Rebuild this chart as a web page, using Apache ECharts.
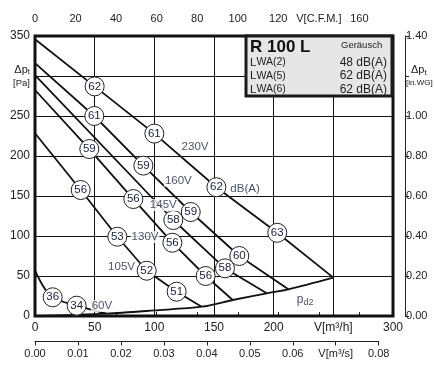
<!DOCTYPE html>
<html><head><meta charset="utf-8">
<script src="https://cdn.jsdelivr.net/npm/echarts@6/dist/echarts.min.js"></script>
<style>html,body{margin:0;padding:0;background:#fff}#c{width:434px;height:366px}</style>
</head><body><div id="c"></div>
<script>
const FONT = 'Arial, "Liberation Sans", Helvetica, sans-serif';
const AX = '#222';
const NAVY = '#16203a';

// Axis ranges / ticks
const flowMax = 300, flowStep = 50;            // V [m3/h]
const pressMax = 350, pressStep = 50;          // dp_t [Pa]
const cfmMax = 160, cfmStep = 20;              // V [CFM]
const m3sMax = 0.08, m3sStep = 0.01;           // V [m3/s]
const inwgMax = 1.4, inwgStep = 0.2;           // dp_t [in.WG]

// Fan curves [m3/h, Pa]
const curve230V = [[0,346],[50,287],[100,228],[152,161],[203,104],[250,48]];
const curve160V = [[0,316],[49.7,250],[90.8,188],[130.5,130],[171.2,75],[212.3,33.4]];
const curve145V = [[0,301],[115.9,120],[159.2,59.6],[194.2,28.4]];
const curve130V = [[0,282.5],[45.5,208.7],[82.4,146.2],[115.1,91.6],[143,50],[165.7,20]];
const curve105V = [[0,228.5],[38.3,157.5],[69,99.1],[93.6,56.6],[118.7,30.4],[139.7,11.6]];
const curve60V  = [[0,57],[7,37],[14.8,23.4],[34.9,12.9],[60,3]];
const curvePd2  = [[0,0],[60,3],[100,7],[139.7,11.6],[165.7,20],[194.2,28.4],[212.3,33.4],[250,48]];

// Sound level markers [m3/h, Pa, dB(A)]
const soundMarks = [
  [50,287,62],[100,228,61],[152,161,62],[203,104,63],
  [49.7,250,61],[90.8,188,59],[130.5,130,59],[171.2,75,60],
  [115.9,120,58],[159.2,59.6,58],
  [45.5,208.7,59],[82.4,146.2,56],[115.1,91.6,56],[143,50,56],
  [38.3,157.5,56],[69,99.1,53],[93.6,56.6,52],[118.7,30.4,51],
  [14.8,23.4,36],[34.9,12.9,34]
];

// Text annotations [m3/h, Pa, text]
const curveLabels = [
  [134.1,210.9,'230V'],[120.1,169.1,'160V'],[107.5,138.7,'145V'],
  [92.2,98.7,'130V'],[72.5,61.2,'105V'],[56.1,12.5,'60V'],[176,158.4,'dB(A)']
];
const pd2Label = [[226.3,20,'pd2']];

// Legend box content
const modelName = 'R 100 L';
const noiseTitle = 'Geräusch';
const noiseRows = [['2','48 dB(A)'],['5','62 dB(A)'],['6','62 dB(A)']];

function lineSeries(data){
  return {type:'line', data, showSymbol:false, silent:true, z:3,
    lineStyle:{color:'#111', width:1.8}, xAxisIndex:0, yAxisIndex:0, animation:false};
}

const graphic = [
  {type:'rect', shape:{x:246,y:36,width:146,height:60}, style:{fill:'#e6e6e6', stroke:'#1a1a1a', lineWidth:3}, z:100},
  {type:'text', x:250, y:47, style:{text:modelName, font:'bold 17px '+FONT, fill:'#111', verticalAlign:'middle'}, z:101},
  {type:'text', x:341, y:45, style:{text:noiseTitle, font:'9.5px '+FONT, fill:'#222', verticalAlign:'middle'}, z:101}
];
noiseRows.forEach((r,i)=>{
  const y = 62.5 + i*13.5;
  graphic.push({type:'text', x:250, y:y, z:101, style:{
    text:'{l|L}{s|WA(' + r[0] + ')}', verticalAlign:'middle',
    rich:{l:{font:'11.5px '+FONT, fill:'#222'}, s:{font:'10.5px '+FONT, fill:'#222'}}}});
  graphic.push({type:'text', x:387, y:y, z:101, style:{
    text:r[1], font:'12px '+FONT, fill:'#222', align:'right', verticalAlign:'middle'}});
});

const option = {
  animation:false,
  textStyle:{fontFamily:FONT},
  grid:[
    {left:35, top:36, width:358, height:280, show:true, borderColor:'#111', borderWidth:3, backgroundColor:'transparent', z:4, outerBoundsMode:'none', containLabel:false},
    {left:35, top:36, width:324.4, height:280, outerBoundsMode:'none', containLabel:false},
    {left:35, top:36, width:343.7, height:305.5, outerBoundsMode:'none', containLabel:false}
  ],
  xAxis:[
    {gridIndex:0, type:'value', min:0, max:flowMax, interval:flowStep,
      axisLine:{show:false}, axisTick:{show:false},
      splitLine:{show:true, lineStyle:{color:'#111', width:1}},
      axisLabel:{color:AX, fontSize:12, margin:6,
        formatter:v=> v===250 ? 'V[m³/h]' : String(v)}},
    {gridIndex:1, type:'value', position:'top', offset:8, min:0, max:cfmMax, interval:cfmStep,
      axisLine:{show:true, lineStyle:{color:'#222', width:1}},
      axisTick:{show:true, length:4, lineStyle:{color:'#222'}},
      splitLine:{show:false},
      axisLabel:{color:AX, fontSize:11, margin:4,
        formatter:v=> v===140 ? 'V[C.F.M.]' : String(v)}},
    {gridIndex:2, type:'value', position:'bottom', min:0, max:m3sMax, interval:m3sStep,
      axisLine:{show:true, onZero:false, lineStyle:{color:'#222', width:1}},
      axisTick:{show:true, length:4, lineStyle:{color:'#222'}},
      splitLine:{show:false},
      axisLabel:{color:AX, fontSize:11, margin:7,
        formatter:v=> Math.abs(v-0.07)<1e-9 ? 'V[m³/s]' : v.toFixed(2)}}
  ],
  yAxis:[
    {gridIndex:0, type:'value', min:0, max:pressMax, interval:pressStep,
      axisLine:{show:false}, axisTick:{show:false},
      splitLine:{show:true, lineStyle:{color:'#111', width:1}},
      axisLabel:{color:AX, fontSize:12, margin:5,
        formatter:v=> v===300 ? '{d|Δp}{t|t}\n{u|[Pa]}' : String(v),
        rich:{d:{fontSize:11, color:AX, lineHeight:14}, t:{fontSize:8, color:AX, padding:[5,0,0,0]}, u:{fontSize:9.5, color:AX, lineHeight:13}}}},
    {gridIndex:0, type:'value', position:'right', offset:12, min:0, max:inwgMax, interval:inwgStep,
      axisLine:{show:true, lineStyle:{color:'#222', width:1}},
      axisTick:{show:true, length:4, lineStyle:{color:'#222'}},
      splitLine:{show:false},
      axisLabel:{color:AX, fontSize:11, margin:1,
        formatter:v=> Math.abs(v-1.2)<1e-9 ? '{d|Δp}{t|t}\n{u|[in.WG]}' : v.toFixed(2),
        rich:{d:{fontSize:11, color:AX, lineHeight:14, padding:[0,0,0,5]}, t:{fontSize:8, color:AX, padding:[5,0,0,0]}, u:{fontSize:8, color:AX, lineHeight:12}}}},
    {gridIndex:1, type:'value', show:false, min:0, max:1},
    {gridIndex:2, type:'value', show:false, min:0, max:1}
  ],
  series:[
    lineSeries(curve230V), lineSeries(curve160V), lineSeries(curve145V),
    lineSeries(curve130V), lineSeries(curve105V),
    Object.assign(lineSeries(curve60V), {smooth:0.4}),
    Object.assign(lineSeries(curvePd2), {smooth:0.3}),
    {type:'scatter', data:soundMarks, symbolSize:19, silent:true, z:6,
      itemStyle:{color:'#fff', borderColor:'#222', borderWidth:1, opacity:1},
      label:{show:true, position:'inside', color:NAVY, fontSize:11.5, formatter:p=>String(p.value[2])}},
    {type:'scatter', data:curveLabels, symbolSize:0, silent:true, z:7,
      label:{show:true, position:'inside', color:NAVY, fontSize:11.5, backgroundColor:'#fff', padding:[0,1],
        formatter:p=>p.value[2]}},
    {type:'scatter', data:pd2Label, symbolSize:0, silent:true, z:7,
      label:{show:true, position:'inside', formatter:()=> '{p|p}{s|d2}',
        rich:{p:{fontSize:12, color:NAVY}, s:{fontSize:9, color:NAVY, padding:[6,0,0,0]}}}}
  ],
  graphic
};
const chart = echarts.init(document.getElementById('c'), null, {renderer:'canvas'});
chart.setOption(option);
</script></body></html>
